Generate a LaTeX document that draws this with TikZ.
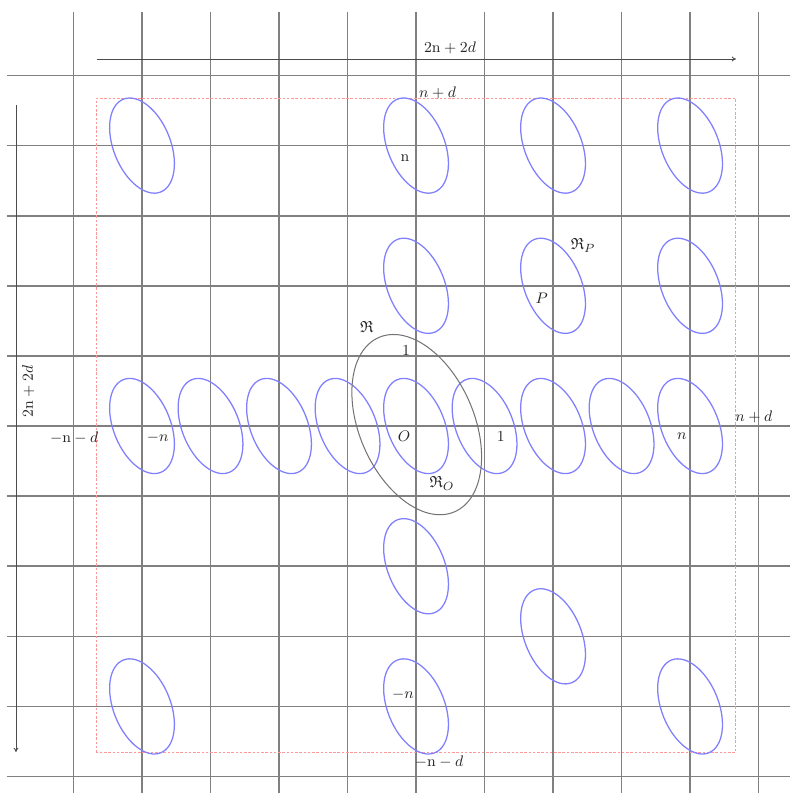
\documentclass[tikz,border=0pt]{standalone}
\usepackage{amssymb}
\usetikzlibrary{arrows.meta}
\begin{document}
\begin{tikzpicture}[x=1.418cm,y=1.451cm,
  gridline/.style={black!50,line width=0.95pt},
  cell/.style={blue!50,line width=0.75pt},
  region/.style={black!55,line width=0.6pt},
  dimline/.style={black!70,line width=0.5pt,-{To[length=2.5pt,width=3pt]}},
  box/.style={red!40,line width=0.45pt,dash pattern=on 1.5pt off 1pt},
  lab/.style={inner sep=0pt,text=black!85,font=\fontsize{9.5}{11}\selectfont}]
\useasboundingbox (-6.073,-5.235) rectangle (5.460,6.077);
% grid
\foreach \i in {-5,...,5} {
  \draw[gridline] (\i,5.906) -- (\i,-5.235);
  \draw[gridline] (-5.97,\i) -- (5.46,\i);
}
% dashed frame
\draw[box] (-4.66,-4.66) rectangle (4.66,4.68);
% blue regions
\foreach \cx/\cy in {-4/4,0/4,2/4,4/4,0/2,2/2,4/2,
  -4/0,-3/0,-2/0,-1/0,0/0,1/0,2/0,3/0,4/0,
  0/-2,2/-3,-4/-4,0/-4,4/-4}
  \draw[cell,shift={(\cx,\cy)},rotate=22] (0,0) ellipse [x radius=0.59cm,y radius=1.035cm];
% gray region R
\draw[region,shift={(0.01,0.02)},rotate=23.5] (0,0) ellipse [x radius=1.188cm,y radius=1.967cm];
% dimension arrows
\coordinate (tl) at (-4.66,5.235);
\coordinate (tr) at (4.67,5.235);
\draw[dimline] (tl) -- (tr);
\coordinate (vt) at (-5.84,4.58);
\coordinate (vb) at (-5.84,-4.65);
\draw[dimline] (vt) -- (vb);
% labels
\node[lab] (w) at (0.496,5.40) {$2\mathrm{n}+2d$};
\node[lab,rotate=90] (h) at (-5.66,0.49) {$2\mathrm{n}+2d$};
\node[lab] (ytop) at (0.314,4.755) {$n+d$};
\node[lab] (yn) at (-0.16,3.82) {$\mathrm{n}$};
\node[lab] (RP) at (2.44,2.57) {$\mathfrak{R}_P$};
\node[lab] (P) at (1.835,1.82) {$P$};
\node[lab] (R) at (-0.72,1.417) {$\mathfrak{R}$};
\node[lab] (y1) at (-0.146,1.074) {$1$};
\node[lab] (O) at (-0.175,-0.152) {$O$};
\node[lab] (x1) at (1.236,-0.152) {$1$};
\node[lab] (RO) at (0.38,-0.82) {$\mathfrak{R}_O$};
\node[lab] (xn) at (3.88,-0.152) {$n$};
\node[lab] (xnd) at (4.93,0.133) {$n+d$};
\node[lab] (xmnd) at (-4.99,-0.176) {$-\mathrm{n}-d$};
\node[lab] (xmn) at (-3.77,-0.17) {$-n$};
\node[lab] (ymn) at (-0.19,-3.83) {$-n$};
\node[lab] (ymnd) at (0.336,-4.79) {$-\mathrm{n}-d$};
\end{tikzpicture}
\end{document}
